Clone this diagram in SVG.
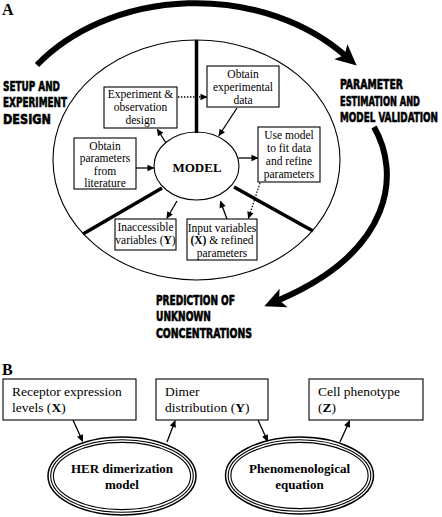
<svg xmlns="http://www.w3.org/2000/svg" width="442" height="517" viewBox="0 0 442 517">
<style>
.bg{fill:#fff}
.box{fill:#fff;stroke:#000;stroke-width:1.1}
.t{font-family:"Liberation Serif","Times New Roman",serif;font-size:11.5px;fill:#000;text-anchor:middle}
.tb{font-family:"Liberation Serif","Times New Roman",serif;font-size:13.5px;fill:#000}
.bold{font-weight:bold}
.imp{font-family:"DejaVu Sans Condensed","DejaVu Sans",sans-serif;font-stretch:condensed;font-weight:bold;font-size:14px;fill:#000;stroke:#000;stroke-width:0.6}
.lab{font-family:"Liberation Serif","Times New Roman",serif;font-weight:bold;font-size:16px;fill:#000}
.ar{fill:none;stroke:#000;stroke-width:1.3;marker-end:url(#ah)}
.dot{fill:none;stroke:#000;stroke-width:1.3;stroke-dasharray:1.4 1.6;marker-end:url(#ah)}
.big{fill:none;stroke:#000;stroke-width:6;marker-end:url(#bh)}
.div{stroke:#000;stroke-width:3.5;fill:none}
.el{fill:none;stroke:#000;stroke-width:1.1}
</style>
<defs>
<marker id="ah" markerUnits="userSpaceOnUse" markerWidth="12" markerHeight="10" viewBox="-8 -5 10 10" refX="0" refY="0" orient="auto">
<path d="M1,0 L-6,-3.2 L-6,3.2 z" fill="#000"/>
</marker>
<marker id="bh" markerUnits="userSpaceOnUse" markerWidth="30" markerHeight="24" viewBox="-8 -12 30 24" refX="0" refY="0" orient="auto">
<path d="M16,0 L-5,-10 L0,0 L-5,10 z" fill="#000"/>
</marker>
</defs>
<rect class="bg" x="0" y="0" width="442" height="517"/>

<text class="lab" x="2" y="15">A</text>
<text class="lab" x="2" y="375">B</text>

<!-- Part A: big cycle -->
<g id="cycle-arrows">
<path class="big" d="M37,65 A200,157 0 0 1 344.6,55"/>
<path class="big" d="M374,127 C400,172 395,250 279,300"/>
</g>

<g id="outer-ellipse">
<ellipse class="el" cx="196.5" cy="160" rx="143.5" ry="120" fill="#fff"/>
<line class="div" x1="196.5" y1="40" x2="196.5" y2="133"/>
<line class="div" x1="83" y1="234" x2="162" y2="188"/>
<line class="div" x1="234" y1="187" x2="313" y2="231"/>
</g>

<g id="stage-labels">
<g transform="translate(3,0) scale(0.65,1)">
<text class="imp" x="0" y="91" textLength="87.7" lengthAdjust="spacingAndGlyphs">SETUP AND</text>
<text class="imp" x="0" y="107.5" textLength="98.5" lengthAdjust="spacingAndGlyphs">EXPERIMENT</text>
<text class="imp" x="0" y="124" textLength="73.8" lengthAdjust="spacingAndGlyphs">DESIGN</text>
</g>
<g transform="translate(340,0) scale(0.65,1)">
<text class="imp" x="0" y="89.5" textLength="96.9" lengthAdjust="spacingAndGlyphs">PARAMETER</text>
<text class="imp" x="0" y="106" textLength="123" lengthAdjust="spacingAndGlyphs">ESTIMATION AND</text>
<text class="imp" x="0" y="122" textLength="150.8" lengthAdjust="spacingAndGlyphs">MODEL VALIDATION</text>
</g>
<g transform="translate(156,0) scale(0.65,1)">
<text class="imp" x="0" y="305" textLength="121.5" lengthAdjust="spacingAndGlyphs">PREDICTION OF</text>
<text class="imp" x="0" y="321.5" textLength="84.6" lengthAdjust="spacingAndGlyphs">UNKNOWN</text>
<text class="imp" x="0" y="338" textLength="147.7" lengthAdjust="spacingAndGlyphs">CONCENTRATIONS</text>
</g>
</g>

<g id="connectors-A">
<path class="ar" d="M166,143 L157.5,129.5"/>
<path class="ar" d="M237,108 L219,135.5"/>
<path class="ar" d="M238.5,158 L257.5,158"/>
<path class="ar" d="M136,168 L153.5,168"/>
<path class="ar" d="M177,201 L167,218"/>
<path class="ar" d="M227,219 L220.5,201.5"/>
<path class="dot" d="M178,97 L206.5,97"/>
<path class="dot" d="M260,183 L248.5,218"/>
</g>

<g id="model">
<ellipse class="el" cx="196.5" cy="166" rx="42.5" ry="34" fill="#fff"/>
<text class="t bold" x="197" y="172" style="font-size:13px">MODEL</text>
</g>

<g id="exp-design">
<rect class="box" x="104" y="87" width="73" height="41"/>
<text class="t" x="140.5" y="98">Experiment &amp;</text>
<text class="t" x="140.5" y="111">observation</text>
<text class="t" x="140.5" y="124">design</text>
</g>

<g id="exp-data">
<rect class="box" x="207" y="66" width="72" height="41"/>
<text class="t" x="243" y="78">Obtain</text>
<text class="t" x="243" y="91">experimental</text>
<text class="t" x="243" y="104">data</text>
</g>

<g id="fit-model">
<rect class="box" x="258" y="127" width="62" height="55"/>
<text class="t" x="289" y="139">Use model</text>
<text class="t" x="289" y="152">to fit data</text>
<text class="t" x="289" y="165">and refine</text>
<text class="t" x="289" y="178">parameters</text>
</g>

<g id="literature">
<rect class="box" x="74" y="138" width="62" height="51"/>
<text class="t" x="105" y="149.5">Obtain</text>
<text class="t" x="105" y="162">parameters</text>
<text class="t" x="105" y="174.5">from</text>
<text class="t" x="105" y="187">literature</text>
</g>

<g id="inaccessible">
<rect class="box" x="115" y="219" width="61" height="31"/>
<text class="t" x="145.5" y="231">Inaccessible</text>
<text class="t" x="145.5" y="244">variables (<tspan class="bold">Y</tspan>)</text>
</g>

<g id="input-vars">
<rect class="box" x="187" y="219" width="70" height="41"/>
<text class="t" x="222" y="231.5">Input variables</text>
<text class="t" x="222" y="244"><tspan class="bold">(X)</tspan> &amp; refined</text>
<text class="t" x="222" y="256.5">parameters</text>
</g>

<!-- Part B -->
<g id="receptor">
<rect class="box" x="3" y="379" width="133" height="41"/>
<text class="tb" x="12" y="396">Receptor expression</text>
<text class="tb" x="12" y="412">levels (<tspan class="bold">X</tspan>)</text>
</g>
<g id="dimer">
<rect class="box" x="156" y="379" width="112" height="41"/>
<text class="tb" x="165" y="396">Dimer</text>
<text class="tb" x="165" y="412">distribution (<tspan class="bold">Y</tspan>)</text>
</g>
<g id="phenotype">
<rect class="box" x="309" y="379" width="114" height="41"/>
<text class="tb" x="318" y="396">Cell phenotype</text>
<text class="tb" x="318" y="412">(<tspan class="bold">Z</tspan>)</text>
</g>

<g id="her-model">
<ellipse cx="122" cy="476" rx="74" ry="39" fill="#fff" stroke="#000" stroke-width="1.5"/>
<ellipse class="el" cx="122" cy="476" rx="71.3" ry="36.3"/>
<ellipse class="el" cx="122" cy="476" rx="68.6" ry="33.6"/>
<text class="t bold" x="122" y="473" style="font-size:13px">HER dimerization</text>
<text class="t bold" x="122" y="489" style="font-size:13px">model</text>
</g>
<g id="phenomenological">
<ellipse cx="299.5" cy="475.5" rx="74" ry="38.5" fill="#fff" stroke="#000" stroke-width="1.5"/>
<ellipse class="el" cx="299.5" cy="475.5" rx="71.3" ry="35.8"/>
<ellipse class="el" cx="299.5" cy="475.5" rx="68.6" ry="33.1"/>
<text class="t bold" x="299.5" y="473" style="font-size:13px">Phenomenological</text>
<text class="t bold" x="299.5" y="489" style="font-size:13px">equation</text>
</g>

<g id="connectors-B">
<path class="ar" d="M73,420 L82.5,441"/>
<path class="ar" d="M167,442 L175,421"/>
<path class="ar" d="M258,420 L267.5,441"/>
<path class="ar" d="M340,442 L349.5,421"/>
</g>
</svg>
